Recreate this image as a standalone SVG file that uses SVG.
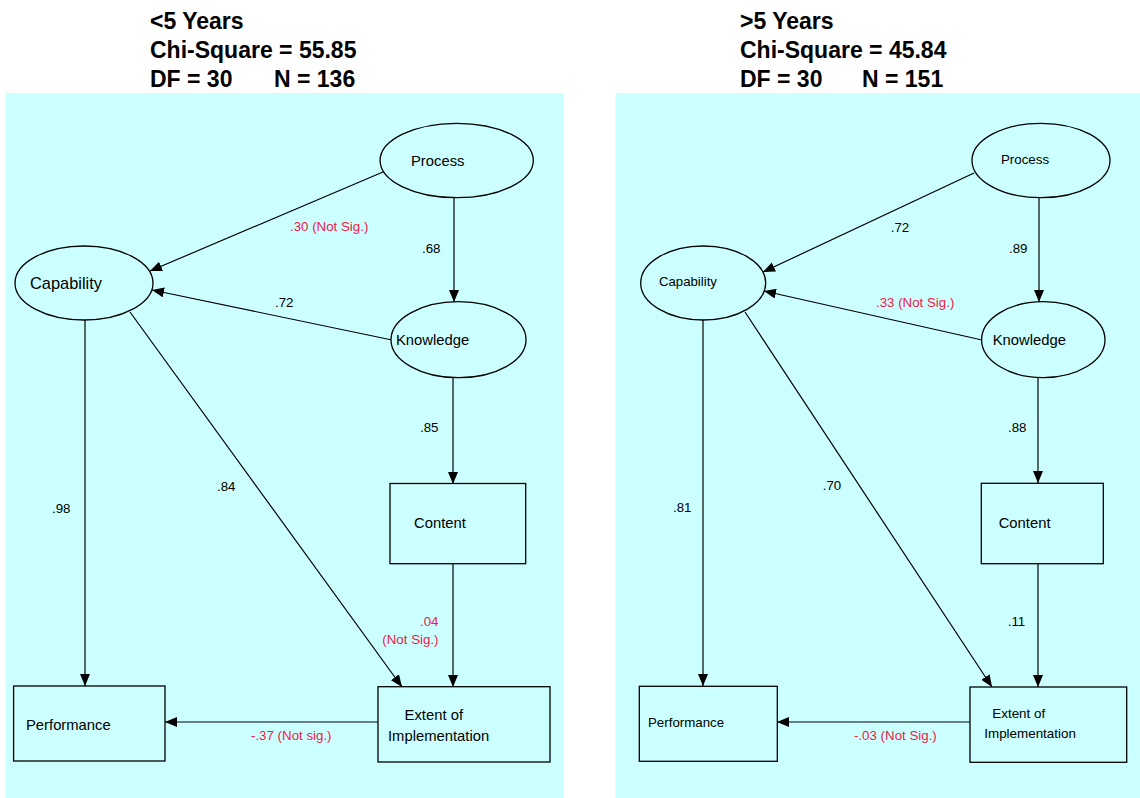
<svg xmlns="http://www.w3.org/2000/svg" width="1140" height="798" viewBox="0 0 1140 798">
<defs>
<marker id="arr" viewBox="0 0 12 10" refX="12" refY="5" markerWidth="12" markerHeight="10" orient="auto" markerUnits="userSpaceOnUse">
<path d="M0,0 L12,5 L0,10 z" fill="#000"/>
</marker>
<style>
.bg{fill:#CCFFFF;stroke:none}
.shape{fill:#CCFFFF;stroke:#000;stroke-width:1.3}
.e{stroke:#000;stroke-width:1.2;fill:none;marker-end:url(#arr)}
text{font-family:"Liberation Sans",Arial,sans-serif;fill:#000}
.hdr{font-size:23px;font-weight:bold}
.n{font-size:14.8px}
.ns{font-size:13.3px}
.l{font-size:13.3px}
.r{fill:#EE1A48}
</style>
</defs>
<rect width="1140" height="798" fill="#fff"/>
<rect class="bg" x="5.5" y="93" width="558.5" height="705"/>
<rect class="bg" x="615.5" y="93" width="524.5" height="705"/>
<g id="header-left">
<text class="hdr" x="150" y="29">&lt;5 Years</text>
<text class="hdr" x="150" y="58">Chi-Square = 55.85</text>
<text class="hdr" x="150" y="87">DF = 30</text>
<text class="hdr" x="274" y="87">N = 136</text>
</g>
<g id="header-right">
<text class="hdr" x="740" y="29">&gt;5 Years</text>
<text class="hdr" x="740" y="58">Chi-Square = 45.84</text>
<text class="hdr" x="740" y="87">DF = 30</text>
<text class="hdr" x="862" y="87">N = 151</text>
</g>
<g id="connectors">
<line class="e" x1="383" y1="172" x2="150" y2="271"/>
<line class="e" x1="454" y1="198" x2="454" y2="302"/>
<line class="e" x1="392" y1="340" x2="152" y2="290"/>
<line class="e" x1="453" y1="378" x2="453" y2="484"/>
<line class="e" x1="85" y1="320" x2="85" y2="686"/>
<line class="e" x1="130" y1="312" x2="402" y2="687"/>
<line class="e" x1="453" y1="564" x2="453" y2="687"/>
<line class="e" x1="378" y1="722" x2="165" y2="722"/>
<line class="e" x1="974" y1="173" x2="763" y2="272"/>
<line class="e" x1="1039" y1="198" x2="1039" y2="302"/>
<line class="e" x1="982" y1="340" x2="764" y2="291"/>
<line class="e" x1="1038" y1="378" x2="1038" y2="483"/>
<line class="e" x1="703" y1="320" x2="703" y2="686"/>
<line class="e" x1="745" y1="312" x2="992" y2="687"/>
<line class="e" x1="1038" y1="564" x2="1038" y2="687"/>
<line class="e" x1="970" y1="722" x2="777" y2="722"/>
<text class="l r" x="290" y="231">.30 (Not Sig.)</text>
<text class="l" x="422" y="252.5">.68</text>
<text class="l" x="275" y="306.5">.72</text>
<text class="l" x="420" y="431.5">.85</text>
<text class="l" x="52" y="512.5">.98</text>
<text class="l" x="217" y="490.5">.84</text>
<text class="l r" x="438.5" y="626" text-anchor="end">.04</text>
<text class="l r" x="438.5" y="643.5" text-anchor="end">(Not Sig.)</text>
<text class="l r" x="251" y="740">-.37 (Not sig.)</text>
<text class="l" x="890.7" y="231.5">.72</text>
<text class="l" x="1009" y="252.5">.89</text>
<text class="l r" x="876" y="306.5">.33 (Not Sig.)</text>
<text class="l" x="1008" y="431.5">.88</text>
<text class="l" x="673" y="512">.81</text>
<text class="l" x="822.7" y="490">.70</text>
<text class="l" x="1007.7" y="626">.11</text>
<text class="l r" x="854" y="740">-.03 (Not Sig.)</text>
</g>
<g id="L-process"><ellipse class="shape" cx="456.7" cy="160.5" rx="76.6" ry="37.2"/><text class="n" x="411" y="166">Process</text></g>
<g id="L-capability"><ellipse class="shape" cx="84" cy="283" rx="69" ry="37"/><text x="30" y="289" style="font-size:16.4px">Capability</text></g>
<g id="L-knowledge"><ellipse class="shape" cx="458.5" cy="339.7" rx="67.5" ry="38"/><text class="n" x="396" y="344.5">Knowledge</text></g>
<g id="L-content"><rect class="shape" x="390" y="483.5" width="135.7" height="80.2"/><text class="n" x="414" y="528">Content</text></g>
<g id="L-extent"><rect class="shape" x="378" y="686.7" width="172" height="75.3"/><text class="n" x="404.6" y="719.5">Extent of</text><text class="n" x="388" y="740.5">Implementation</text></g>
<g id="L-performance"><rect class="shape" x="13.6" y="686" width="151.4" height="75"/><text class="n" x="26" y="729.5">Performance</text></g>
<g id="R-process"><ellipse class="shape" cx="1041" cy="160.5" rx="69" ry="37.2"/><text class="ns" x="1001" y="164">Process</text></g>
<g id="R-capability"><ellipse class="shape" cx="703.2" cy="283" rx="62.5" ry="37"/><text x="659" y="285.5" style="font-size:13.2px">Capability</text></g>
<g id="R-knowledge"><ellipse class="shape" cx="1043.3" cy="339.7" rx="61.7" ry="38"/><text class="n" x="992.7" y="344.5">Knowledge</text></g>
<g id="R-content"><rect class="shape" x="981.3" y="483.3" width="122" height="80.4"/><text class="n" x="998.7" y="528">Content</text></g>
<g id="R-extent"><rect class="shape" x="970" y="687" width="156.7" height="75.3"/><text x="992.3" y="718" style="font-size:13.4px">Extent of</text><text x="984.3" y="738" style="font-size:13.4px">Implementation</text></g>
<g id="R-performance"><rect class="shape" x="639.3" y="686.3" width="138" height="75"/><text class="ns" x="648" y="727">Performance</text></g>
</svg>
